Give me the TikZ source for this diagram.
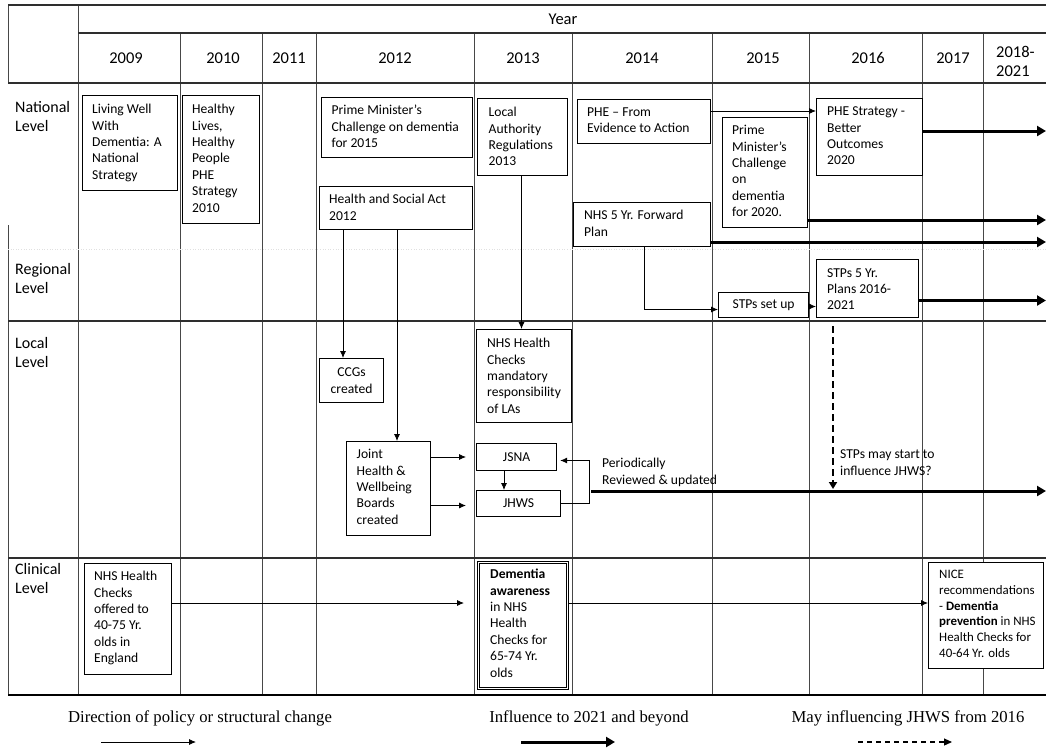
\documentclass[tikz,border=0pt]{standalone}
\usepackage{fontspec}
\setmainfont{Carlito}
\newfontfamily\legfont{Liberation Serif}
\usetikzlibrary{arrows.meta,calc}
\tikzset{
 grid/.style={draw=black!72, line width=0.9pt},
 hgrid/.style={draw=black!82, line width=1.2pt},
 faint/.style={draw=black!12, line width=0.6pt, dotted},
 boxst/.style={draw=black, line width=1.2pt, inner sep=0pt, fill=white},
 dblbox/.style={draw=black, line width=0.8pt, double=white, double distance=1.4pt, inner sep=0pt, fill=white},
 txt/.style={inner sep=0pt, align=left, font=\fontsize{13.6}{16.4}\selectfont},
 ctxt/.style={inner sep=0pt, align=center, font=\fontsize{13.6}{16.4}\selectfont},
 nicetxt/.style={inner sep=0pt, align=left, font=\fontsize{12.9}{15.7}\selectfont},
 lvl/.style={inner sep=0pt, align=left, anchor=north west, font=\fontsize{16}{19.5}\selectfont},
 yr/.style={inner sep=0pt, font=\fontsize{16.5}{19}\selectfont},
 thinarr/.style={draw=black, line width=0.8pt, -{Latex[length=7pt,width=6pt]}},
 thickarr/.style={draw=black, line width=3pt, -{Triangle[length=9pt,width=10pt]}},
 dasharr/.style={draw=black, line width=2pt, dash pattern=on 7pt off 4pt, -{Triangle[length=7pt,width=8pt]}},
 legdash/.style={draw=black, line width=1.1pt, dash pattern=on 5pt off 4pt, -{Triangle[length=8pt,width=7pt]}},
 legtxt/.style={inner sep=0pt, anchor=base, font=\legfont\fontsize{16.7}{19}\selectfont},
}
% name, x1, y1, x2, y2, padx, pady, text
\newcommand\mybox[8]{%
 \node[boxst, anchor=north west, minimum width={#4-#2}, minimum height={#5-#3}] (#1) at (#2,#3) {};
 \node[txt, anchor=north west] (#1t) at ($(#1.north west)+(#6,#7)$) {\strut #8};}
\begin{document}
\begin{tikzpicture}[x=1pt,y=-1pt]
\useasboundingbox (0,0) rectangle (1046,748);
% ---------- table ----------
\foreach \x in {180,262,316,474,572,712,809,922,983} \draw[grid] (\x,33) -- (\x,695);
\draw[grid] (78,5) -- (78,695);
\draw[grid] (8,5) -- (8,83);
\draw[grid] (8,225) -- (8,695);
\draw[faint] (8,249) -- (1046,249);
\draw[hgrid] (8,5) -- (1046,5);
\draw[hgrid] (78,33) -- (1046,33);
\draw[hgrid] (8,83) -- (1046,83);
\draw[hgrid] (8,321) -- (1046,321);
\draw[hgrid] (8,558) -- (1046,558);
\draw[draw=black, line width=1.6pt] (8,695) -- (1046,695);
% headers
\node[yr] (hyear) at (563,19) {Year};
\node[yr] (y09) at (126,58) {2009};
\node[yr] (y10) at (223,58) {2010};
\node[yr] (y11) at (289,58) {2011};
\node[yr] (y12) at (395,58) {2012};
\node[yr] (y13) at (523,58) {2013};
\node[yr] (y14) at (642,58) {2014};
\node[yr] (y15) at (763,58) {2015};
\node[yr] (y16) at (868,58) {2016};
\node[yr] (y17) at (953,58) {2017};
\node[yr, align=left, anchor=west] (y18) at (996,61.5) {2018-\\2021};
% level labels
\node[lvl] (lnat) at (15,98.5) {\strut National\\Level};
\node[lvl] (lreg) at (15,260.5) {\strut Regional\\Level};
\node[lvl] (lloc) at (15,334.5) {\strut Local\\Level};
\node[lvl] (lcli) at (15,560.5) {\strut Clinical\\Level};
% ---------- national / regional boxes ----------
\mybox{b1}{82}{95}{177}{190}{10}{7}{Living Well\\With\\Dementia: A\\National\\Strategy}
\mybox{b2}{182}{95}{259}{223}{10}{7}{Healthy\\Lives,\\Healthy\\People\\PHE\\Strategy\\2010}
\mybox{b3}{321}{97}{472}{157}{10.5}{6}{Prime Minister’s\\Challenge on dementia\\for 2015}
\mybox{b4}{319}{186}{472}{229}{10}{6}{Health and Social Act\\2012}
\mybox{b5}{477}{98}{567}{175}{11.5}{7}{Local\\Authority\\Regulations\\2013}
\mybox{b6}{577}{99}{710}{143}{10}{5.5}{PHE – From\\Evidence to Action}
\mybox{b7}{722}{117}{807}{227}{10}{6}{Prime\\Minister’s\\Challenge\\on\\dementia\\for 2020.}
\mybox{b8}{816}{98}{922}{175}{11}{6}{PHE Strategy -\\Better\\Outcomes\\2020}
\mybox{b9}{573}{202}{710}{246}{11}{6}{NHS 5 Yr. Forward\\Plan}
\node[boxst, ctxt, anchor=north west, minimum width=90, minimum height=25] (b10) at (718,292) {STPs set up};
\mybox{b11}{816}{259}{918}{317}{11}{6.5}{STPs 5 Yr.\\Plans 2016-\\2021}
% ---------- local boxes ----------
\node[boxst, ctxt, anchor=north west, minimum width=64, minimum height=44] (ccg) at (319,358) {CCGs\\created};
\mybox{nhsm}{476}{329}{571}{422}{11}{7}{NHS Health\\Checks\\mandatory\\responsibility\\of LAs}
\mybox{jhwb}{346}{441}{430}{535}{10.5}{6}{Joint\\Health \&\\Wellbeing\\Boards\\created}
\node[boxst, ctxt, anchor=north west, minimum width=80, minimum height=27] (jsna) at (476,443) {JSNA};
\node[boxst, ctxt, anchor=north west, minimum width=84, minimum height=26] (jhws) at (476,490) {JHWS};
% ---------- clinical boxes ----------
\mybox{hco}{84}{563}{171}{674}{10}{6}{NHS Health\\Checks\\offered to\\40-75 Yr.\\olds in\\England}
\node[dblbox, anchor=north west, minimum width=89, minimum height=126] (dem) at (478,562) {};
\node[txt, anchor=north west] (demt) at ($(dem.north west)+(12,5)$) {\strut\textbf{Dementia}\\\textbf{awareness}\\in NHS\\Health\\Checks for\\65-74 Yr.\\olds};
\node[boxst, anchor=north west, minimum width=115, minimum height=106] (nice) at (928,562) {};
\node[nicetxt, anchor=north west] (nicet) at ($(nice.north west)+(11,5.5)$) {\strut NICE\\recommendations\\- \textbf{Dementia}\\\textbf{prevention} in NHS\\Health Checks for\\40-64 Yr. olds};
% ---------- free texts ----------
\node[txt, anchor=north west] (peri) at (602,456) {\strut Periodically\\Reviewed \& updated};
\node[txt, anchor=north west] (stpt) at (840,447) {\strut STPs may start to\\influence JHWS?};
% ---------- helper coordinates ----------
\coordinate (r111) at (0,111);
\coordinate (r131) at (0,131);
\coordinate (r220) at (0,220);
\coordinate (r242) at (0,242);
\coordinate (r300) at (0,300.5);
\coordinate (r306) at (0,306.5);
\coordinate (r309) at (0,309.5);
\coordinate (r457) at (0,457);
\coordinate (r461) at (0,460.5);
\coordinate (r503) at (0,503);
\coordinate (r506) at (0,505.5);
\coordinate (r603) at (0,603);
\coordinate (cA) at (343,0);
\coordinate (cB) at (397,0);
\coordinate (cC) at (521.5,0);
\coordinate (cD) at (644,0);
\coordinate (cE) at (504,0);
\coordinate (loopx) at (589,0);
\coordinate (edge) at (1046,0);
\coordinate (jh1) at (466,0);
\coordinate (cl1) at (464,0);
\coordinate (thS) at (591,491);
\coordinate (thE) at (1046,491);
\coordinate (dS) at (833,326);
\coordinate (dE) at (833,489);
% ---------- connectors ----------
\draw[thinarr] (b6.east |- r111) -- (b8.west |- r111);
\draw[thickarr] (b8.east |- r131) -- (edge |- r131);
\draw[thickarr] (b7.east |- r220) -- (edge |- r220);
\draw[thickarr] (b9.east |- r242) -- (edge |- r242);
\draw[thickarr] (b11.east |- r300) -- (edge |- r300);
\draw[thinarr] (b9.south -| cD) -- (cD |- r309) -- (b10.west |- r309);
\draw[thinarr] (b10.east |- r306) -- (b11.west |- r306);
\draw[thinarr] (b4.south -| cA) -- (ccg.north -| cA);
\draw[thinarr] (b4.south -| cB) -- (jhwb.north -| cB);
\draw[thinarr] (b5.south -| cC) -- (nhsm.north -| cC);
\draw[thinarr] (jhwb.east |- r457) -- (jh1 |- r457);
\draw[thinarr] (jhwb.east |- r506) -- (jh1 |- r506);
\draw[thinarr] (jsna.south -| cE) -- (jhws.north -| cE);
\draw[thinarr] (jhws.east |- r503) -- (loopx |- r503) -- (loopx |- r461) -- ([xshift=3pt]jsna.east |- r461);
\draw[thickarr] (thS) -- (thE);
\draw[dasharr] (dS) -- (dE);
\draw[thinarr] (hco.east |- r603) -- (cl1 |- r603);
\draw[thinarr] (dem.east |- r603) -- (nice.west |- r603);
% ---------- legend ----------
\node[legtxt] (leg1) at (200,722) {Direction of policy or structural change};
\node[legtxt] (leg2) at (589,722) {Influence to 2021 and beyond};
\node[legtxt] (leg3) at (908,722) {May influencing JHWS from 2016};
\coordinate (la1) at (101,742);
\coordinate (la2) at (196,742);
\coordinate (lb1) at (521,742);
\coordinate (lb2) at (615,742);
\coordinate (lc1) at (858,742);
\coordinate (lc2) at (952,742);
\draw[thinarr] (la1) -- (la2);
\draw[thickarr] (lb1) -- (lb2);
\draw[legdash] (lc1) -- (lc2);
\end{tikzpicture}
\end{document}
